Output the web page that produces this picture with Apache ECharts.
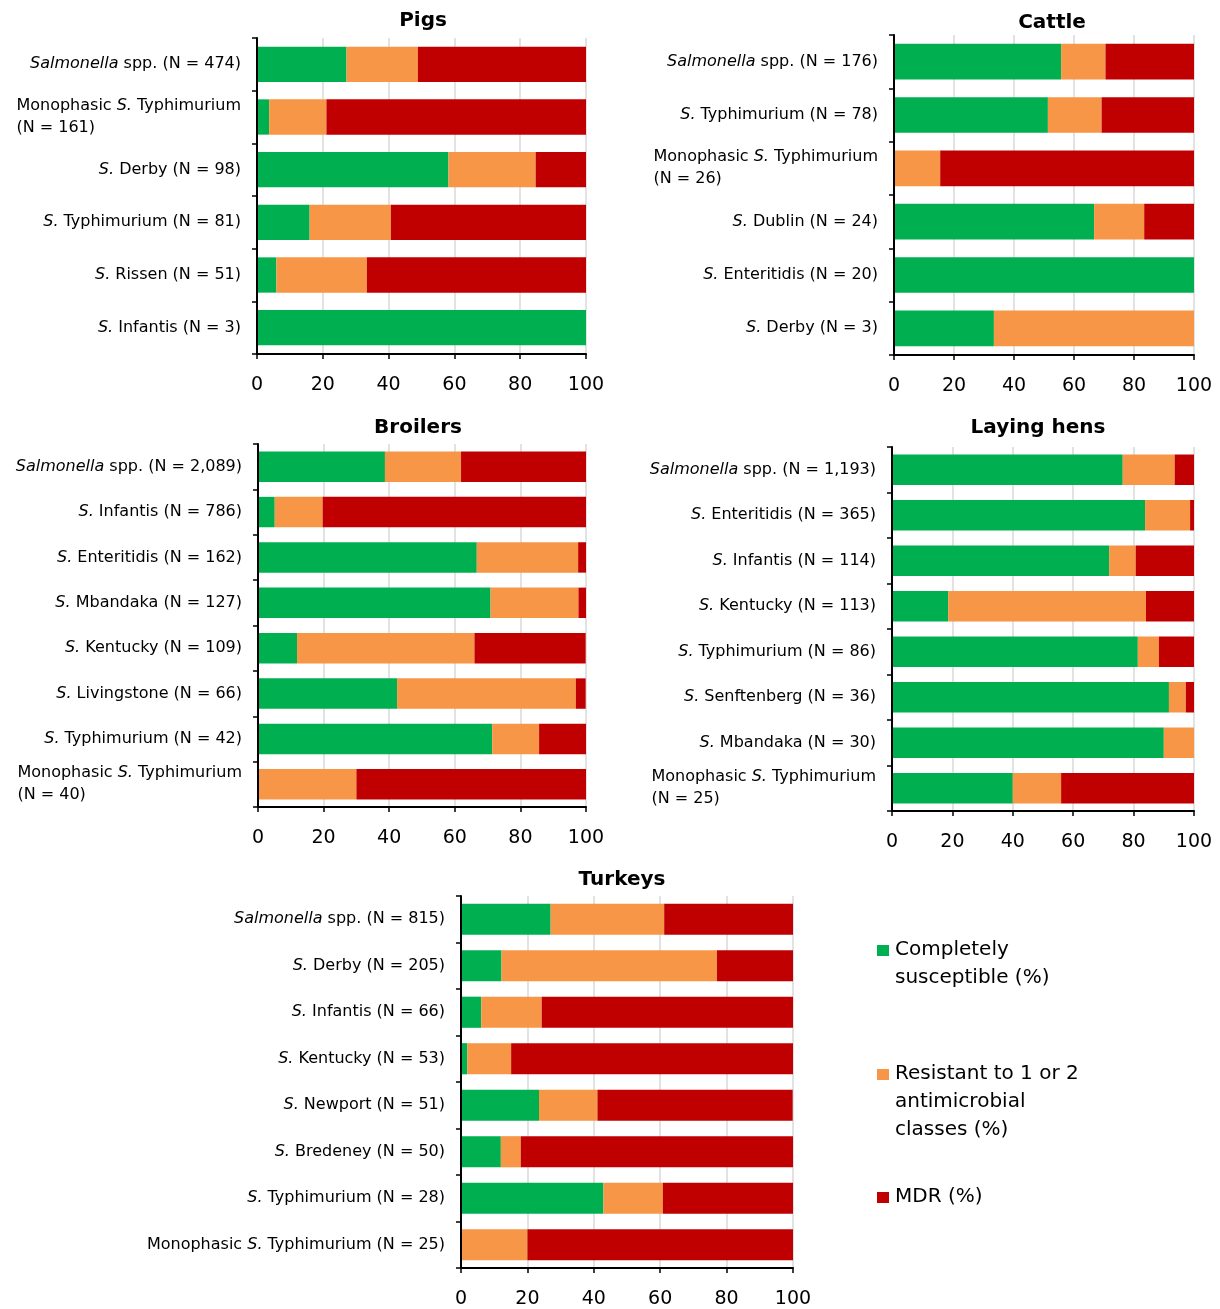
<!DOCTYPE html>
<html><head><meta charset="utf-8">
<script src="https://cdn.jsdelivr.net/npm/echarts@6/dist/echarts.min.js"></script>
<style>html,body{margin:0;padding:0;background:#fff}#c{width:1220px;height:1309px}</style>
</head><body><div id="c"></div>
<script>
// ---------- DATA ----------
const seriesNames = ['Completely susceptible (%)', 'Resistant to 1 or 2 antimicrobial classes (%)', 'MDR (%)'];
const legendLabels = ['Completely\nsusceptible (%)', 'Resistant to 1 or 2\nantimicrobial\nclasses (%)', 'MDR (%)'];
const xTickMin = 0, xTickMax = 100, xTickStep = 20;

const pigsTitle = 'Pigs';
const pigsCategories = ['Salmonella spp. (N = 474)', 'Monophasic S. Typhimurium\n(N = 161)', 'S. Derby (N = 98)', 'S. Typhimurium (N = 81)', 'S. Rissen (N = 51)', 'S. Infantis (N = 3)'];
const pigsSusceptible = [27.2, 3.7, 58.2, 16.0, 5.9, 100];
const pigsResistant = [21.7, 17.4, 26.5, 24.7, 27.5, 0];
const pigsMDR = [51.1, 78.9, 15.3, 59.3, 66.7, 0];

const cattleTitle = 'Cattle';
const cattleCategories = ['Salmonella spp. (N = 176)', 'S. Typhimurium (N = 78)', 'Monophasic S. Typhimurium\n(N = 26)', 'S. Dublin (N = 24)', 'S. Enteritidis (N = 20)', 'S. Derby (N = 3)'];
const cattleSusceptible = [55.7, 51.3, 0, 66.7, 100, 33.3];
const cattleResistant = [14.8, 17.9, 15.4, 16.7, 0, 66.7];
const cattleMDR = [29.5, 30.8, 84.6, 16.7, 0, 0];

const broilersTitle = 'Broilers';
const broilersCategories = ['Salmonella spp. (N = 2,089)', 'S. Infantis (N = 786)', 'S. Enteritidis (N = 162)', 'S. Mbandaka (N = 127)', 'S. Kentucky (N = 109)', 'S. Livingstone (N = 66)', 'S. Typhimurium (N = 42)', 'Monophasic S. Typhimurium\n(N = 40)'];
const broilersSusceptible = [38.7, 5.1, 66.7, 70.9, 11.9, 42.4, 71.4, 0];
const broilersResistant = [23.2, 14.6, 30.9, 26.8, 54.1, 54.5, 14.3, 30];
const broilersMDR = [38.1, 80.3, 2.5, 2.4, 33.9, 3.0, 14.3, 70];

const hensTitle = 'Laying hens';
const hensCategories = ['Salmonella spp. (N = 1,193)', 'S. Enteritidis (N = 365)', 'S. Infantis (N = 114)', 'S. Kentucky (N = 113)', 'S. Typhimurium (N = 86)', 'S. Senftenberg (N = 36)', 'S. Mbandaka (N = 30)', 'Monophasic S. Typhimurium\n(N = 25)'];
const hensSusceptible = [76.4, 83.8, 71.9, 18.6, 81.4, 91.7, 90, 40];
const hensResistant = [17.2, 14.9, 8.8, 65.5, 7.0, 5.6, 10, 16];
const hensMDR = [6.4, 1.3, 19.3, 15.9, 11.6, 2.8, 0, 44];

const turkeysTitle = 'Turkeys';
const turkeysCategories = ['Salmonella spp. (N = 815)', 'S. Derby (N = 205)', 'S. Infantis (N = 66)', 'S. Kentucky (N = 53)', 'S. Newport (N = 51)', 'S. Bredeney (N = 50)', 'S. Typhimurium (N = 28)', 'Monophasic S. Typhimurium (N = 25)'];
const turkeysSusceptible = [27.0, 12.2, 6.1, 1.9, 23.5, 12, 42.9, 0];
const turkeysResistant = [34.2, 64.9, 18.2, 13.2, 17.6, 6, 17.9, 20];
const turkeysMDR = [38.8, 22.9, 75.8, 84.9, 58.8, 82, 39.3, 80];

// ---------- STYLE / LAYOUT ----------
const colors = ['#00B050', '#F79646', '#C00000'];
const FONT = '"DejaVu Sans", Verdana, sans-serif';
const LBL = 16, LH = 22;

const panels = [
  {title: pigsTitle, cats: pigsCategories, vals: [pigsSusceptible, pigsResistant, pigsMDR], grid: {left: 257, top: 38, width: 329, height: 316}, titleX: 423, titleTop: 11},
  {title: cattleTitle, cats: cattleCategories, vals: [cattleSusceptible, cattleResistant, cattleMDR], grid: {left: 894, top: 35, width: 300, height: 320}, titleX: 1052, titleTop: 13},
  {title: broilersTitle, cats: broilersCategories, vals: [broilersSusceptible, broilersResistant, broilersMDR], grid: {left: 258, top: 444, width: 328, height: 363}, titleX: 418, titleTop: 418},
  {title: hensTitle, cats: hensCategories, vals: [hensSusceptible, hensResistant, hensMDR], grid: {left: 892, top: 447, width: 302, height: 364}, titleX: 1038, titleTop: 418},
  {title: turkeysTitle, cats: turkeysCategories, vals: [turkeysSusceptible, turkeysResistant, turkeysMDR], grid: {left: 461, top: 896, width: 332, height: 373}, titleX: 622, titleTop: 870}
];

const ctx = document.createElement('canvas').getContext('2d');
function tw(font, s) { ctx.font = font; return ctx.measureText(s).width; }
const monoW = tw(LBL + 'px ' + FONT, 'Monophasic ') + tw('italic ' + LBL + 'px ' + FONT, 'S.') + tw(LBL + 'px ' + FONT, ' Typhimurium');

function italicize(line) {
  return line.replace(/^Salmonella/, '{i|Salmonella}').replace(/(^|\s)S\./, '$1{i|S.}');
}
function fmt(v) {
  const lines = v.split('\n');
  if (lines.length === 1) return italicize(lines[0]);
  return italicize(lines[0]) + '\n{w|' + lines[1] + '}';
}

const grids = [], xAxes = [], yAxes = [], series = [], titles = [];
panels.forEach((p, k) => {
  grids.push(Object.assign({containLabel: false}, p.grid));
  titles.push({
    text: p.title, left: p.titleX, top: p.titleTop, textAlign: 'center', padding: 0,
    textStyle: {fontFamily: FONT, fontWeight: 'bold', fontSize: 20, color: '#000'}
  });
  xAxes.push({
    type: 'value', gridIndex: k, min: xTickMin, max: xTickMax, interval: xTickStep,
    axisLine: {show: true, lineStyle: {color: '#000', width: 2}},
    axisTick: {show: true, length: 5, lineStyle: {color: '#000', width: 1.5}},
    axisLabel: {color: '#000', fontFamily: FONT, fontSize: 19, margin: 22},
    splitLine: {show: true, lineStyle: {color: '#d9d9d9', width: 1.5}}
  });
  yAxes.push({
    type: 'category', gridIndex: k, data: p.cats, inverse: true, z: 5,
    axisLine: {show: true, lineStyle: {color: '#000', width: 2}},
    axisTick: {show: true, length: 5, lineStyle: {color: '#000', width: 1.5}},
    axisLabel: {
      color: '#000', fontFamily: FONT, fontSize: LBL, lineHeight: LH, margin: 16, formatter: fmt,
      rich: {
        i: {fontStyle: 'italic', fontFamily: FONT, fontSize: LBL, lineHeight: LH, color: '#000'},
        w: {width: monoW, align: 'left', fontFamily: FONT, fontSize: LBL, lineHeight: LH, color: '#000'}
      }
    },
    splitLine: {show: false}
  });
  p.vals.forEach((arr, s) => {
    series.push({
      type: 'bar', name: seriesNames[s], stack: 'p' + k, xAxisIndex: k, yAxisIndex: k,
      data: arr, barWidth: '67%', itemStyle: {color: colors[s]}, z: 2
    });
  });
});

// legend drawn as graphic (icon aligned with first line of multi-line text)
const legendTops = [936, 1060, 1183];
const graphic = [];
legendLabels.forEach((t, i) => {
  graphic.push({type: 'rect', left: 877, top: legendTops[i] + 9, shape: {width: 12, height: 11}, style: {fill: colors[i]}});
  graphic.push({type: 'text', left: 895, top: legendTops[i], style: {text: t, font: '20px ' + FONT, lineHeight: 28, fill: '#000'}});
});

const chart = echarts.init(document.getElementById('c'), null, {renderer: 'canvas'});
chart.setOption({
  animation: false, backgroundColor: '#fff',
  title: titles, grid: grids, xAxis: xAxes, yAxis: yAxes, series: series, graphic: graphic,
  legend: {show: false, data: seriesNames}
});
</script></body></html>
